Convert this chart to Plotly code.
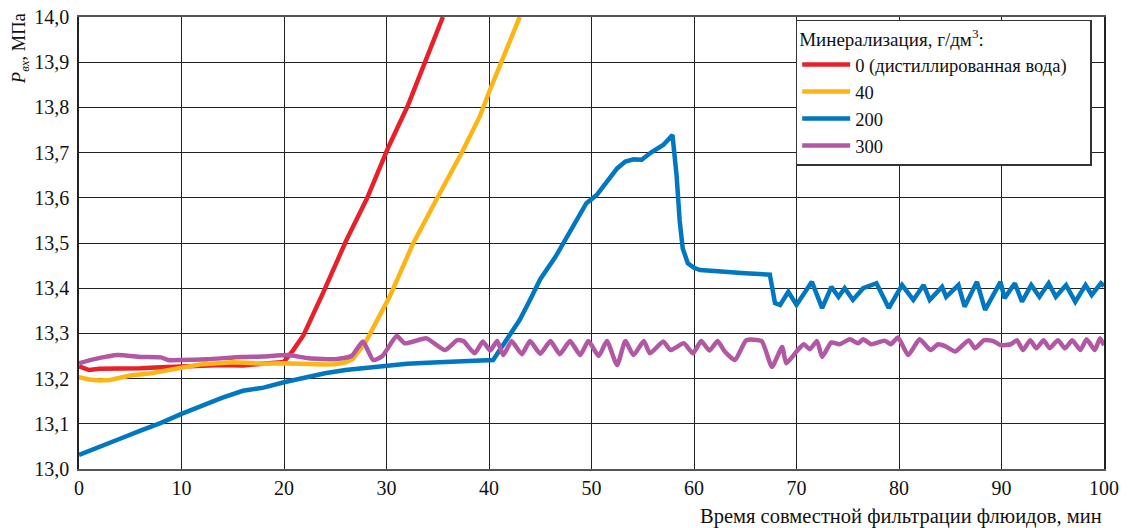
import plotly.graph_objects as go

# ---- data ----
red_t = [0, 1, 2, 4, 6, 8, 10, 12, 14, 16, 18, 20, 20.9, 21.9, 23.8, 26.1, 28.1, 30.2, 32.1, 33.9, 35.5]
red_p = [13.227, 13.219, 13.222, 13.222, 13.223, 13.225, 13.227, 13.229, 13.23, 13.229, 13.232, 13.237,
         13.263, 13.296, 13.389, 13.507, 13.599, 13.713, 13.805, 13.905, 14.0]

yel_t = [0, 1, 2, 3, 4, 5, 7, 9, 10, 12, 15, 18, 20, 22, 24, 25, 26, 26.7, 27.9, 30.3, 32.6, 35.2,
         37.3, 39.1, 40.1, 43]
yel_p = [13.203, 13.198, 13.196, 13.197, 13.202, 13.207, 13.212, 13.22, 13.226, 13.232, 13.236, 13.233,
         13.234, 13.232, 13.231, 13.232, 13.236, 13.243, 13.278, 13.381, 13.499, 13.61, 13.698, 13.78,
         13.839, 14.0]

blue_t = [0, 2, 4, 6, 8, 10, 12, 14, 16, 18, 20, 22, 24, 26, 28, 30, 32, 34, 36, 38, 40.4, 41.5, 43, 44,
          45, 46.5, 48, 49.5, 50.5, 51.5, 52.5, 53.3, 54.1, 54.9, 55.8, 57, 57.9, 58.3, 58.6, 58.9, 59.4,
          60, 60.6, 62, 63.2, 65, 67.4, 67.9, 68.4, 69.2, 70, 71.5, 72.5, 73.4, 74.1, 74.7, 75.5, 76.5,
          77.8, 79, 80.3, 81.4, 82.4, 83, 84.2, 84.6, 85.8, 86.4, 87.6, 88.4, 89.9, 90.3, 91.3, 92, 92.9,
          93.7, 94.6, 95.3, 96.3, 97.2, 98.2, 98.8, 99.7, 100]
blue_p = [13.031, 13.048, 13.067, 13.085, 13.102, 13.122, 13.14, 13.158, 13.173, 13.18, 13.192, 13.203,
          13.212, 13.219, 13.224, 13.23, 13.233, 13.235, 13.238, 13.239, 13.241, 13.28, 13.33, 13.374,
          13.42, 13.47, 13.53, 13.588, 13.606, 13.635, 13.665, 13.68, 13.685, 13.684, 13.70, 13.717,
          13.739, 13.65, 13.55, 13.488, 13.455, 13.445, 13.44, 13.438, 13.437, 13.433, 13.43, 13.367,
          13.363, 13.392, 13.363, 13.414, 13.356, 13.403, 13.381, 13.4, 13.374, 13.4, 13.411, 13.356,
          13.407, 13.374, 13.407, 13.374, 13.403, 13.381, 13.407, 13.359, 13.414, 13.352, 13.414, 13.378,
          13.411, 13.37, 13.407, 13.381, 13.411, 13.381, 13.407, 13.37, 13.407, 13.385, 13.411, 13.405]

pur_t = [0, 1.5, 3.8, 6, 8, 8.7, 10, 12.5, 15.9, 18, 20.4, 22.4, 25, 26.6, 27.7, 28.7, 29.6, 31, 31.8,
         33.9, 35.7, 36.9, 37.5, 38.6, 39.4, 40.1, 40.8, 41.4, 42.2, 43.2, 44, 45, 46, 46.9, 47.9, 48.9,
         49.7, 50.7, 51.5, 52.5, 53.3, 54.1, 55.1, 55.7, 57, 57.7, 59, 59.9, 60.7, 61.5, 62.3, 63, 64,
         65.1, 66.6, 67.6, 68.6, 69.0, 70, 70.7, 71.3, 72, 72.5, 73.4, 74.2, 75.2, 76, 76.5, 77.3, 78.6,
         79.2, 79.9, 80.9, 82, 83.1, 83.8, 84.5, 85.5, 86.8, 87.4, 88.3, 89.2, 89.9, 90.9, 91.5, 92.1,
         92.8, 93.4, 94.1, 94.7, 95.5, 96.2, 96.9, 97.7, 98.3, 99.1, 99.6, 100]
pur_p = [13.234, 13.243, 13.252, 13.248, 13.247, 13.241, 13.241, 13.243, 13.248, 13.249, 13.252, 13.245,
         13.243, 13.25, 13.282, 13.241, 13.25, 13.294, 13.278, 13.289, 13.263, 13.285, 13.283, 13.256,
         13.282, 13.262, 13.283, 13.252, 13.283, 13.254, 13.283, 13.255, 13.283, 13.254, 13.283, 13.252,
         13.283, 13.25, 13.283, 13.23, 13.283, 13.252, 13.283, 13.256, 13.282, 13.263, 13.278, 13.256,
         13.283, 13.262, 13.283, 13.26, 13.241, 13.285, 13.283, 13.226, 13.27, 13.234, 13.26, 13.276,
         13.265, 13.283, 13.248, 13.28, 13.276, 13.287, 13.278, 13.287, 13.276, 13.284, 13.276, 13.291,
         13.252, 13.287, 13.263, 13.276, 13.272, 13.26, 13.285, 13.267, 13.285, 13.283, 13.274, 13.276,
         13.285, 13.263, 13.285, 13.267, 13.285, 13.267, 13.285, 13.267, 13.285, 13.263, 13.287, 13.263,
         13.289, 13.274, 13.263]

series = [
    ("0 (дистиллированная вода)\u00a0\u00a0\u00a0\u00a0", red_t, red_p, "#E8202A", "linear"),
    ("40", yel_t, yel_p, "#FDB515", "linear"),
    ("200", blue_t, blue_p, "#0077C0", "linear"),
    ("300", pur_t, pur_p, "#B257A3", "spline"),
]

x_ticks = list(range(0, 101, 10))
y_ticks = [13.0, 13.1, 13.2, 13.3, 13.4, 13.5, 13.6, 13.7, 13.8, 13.9, 14.0]

FONT = "Liberation Serif, Times New Roman, serif"

# page body has a default 8px margin; the figure is sized/offset to compensate
W, H = 1120, 520

fig = go.Figure()
for name, t, p, c, shape in series:
    line = dict(color=c, width=4.5, shape=shape)
    if shape == "spline":
        line["smoothing"] = 0.5
    fig.add_trace(go.Scatter(x=t, y=p, mode="lines", name=name, line=line))

fig.update_layout(
    width=W, height=H,
    margin=dict(l=71, r=24, t=9, b=59, autoexpand=False),
    paper_bgcolor="white", plot_bgcolor="white",
    separators=", ",
    font=dict(family=FONT, size=20, color="#111"),
    showlegend=True,
    legend=dict(
        x=0.988, y=0.994, xanchor="right", yanchor="top",
        bgcolor="white", bordercolor="#333", borderwidth=1.5,
        font=dict(family=FONT, size=18.5, color="#111"),
        title=dict(text="Минерализация, г/дм<sup>3</sup>:", font=dict(family=FONT, size=19)),
        tracegroupgap=0, itemwidth=48,
    ),
    xaxis=dict(range=[0, 100], tickvals=x_ticks, showgrid=True, gridcolor="#222", gridwidth=1,
               showline=True, linecolor="#555", linewidth=1.5, mirror=True, zeroline=False,
               ticks="", automargin=False, ticklabeloverflow="allow",
               tickfont=dict(family=FONT, size=20, color="#111")),
    yaxis=dict(range=[13.0, 14.0], tickvals=y_ticks, tickformat=".1f", showgrid=True,
               gridcolor="#222", gridwidth=1, showline=True, linecolor="#222", linewidth=1.5,
               mirror=True, zeroline=False, ticks="", ticklabelstandoff=4, automargin=False,
               ticklabeloverflow="allow",
               tickfont=dict(family=FONT, size=20, color="#111")),
    annotations=[
        dict(text="Время совместной фильтрации флюидов, мин", xref="paper", yref="paper",
             x=1.0, y=-0.104, xanchor="right", yanchor="middle", showarrow=False,
             font=dict(family=FONT, size=20.5, color="#111")),
        dict(text="<i>P</i><sub><i>вх</i></sub>, МПа", xref="paper", yref="paper",
             x=-0.0575, y=0.929, xanchor="center", yanchor="middle", textangle=-90,
             showarrow=False, font=dict(family=FONT, size=18.5, color="#111")),
    ],
)

fig.write_html("out.html")
